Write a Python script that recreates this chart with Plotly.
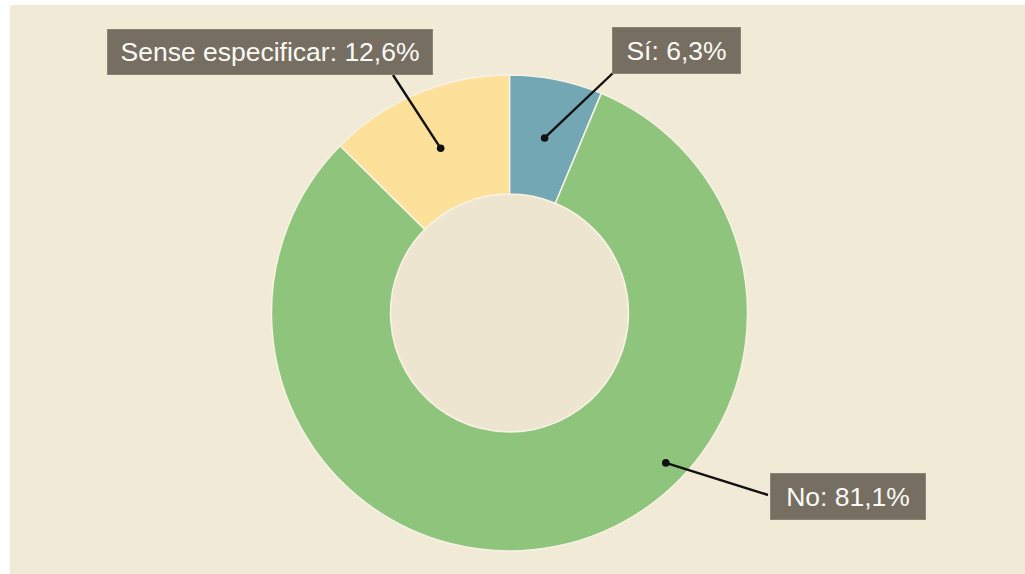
import math
import plotly.graph_objects as go

# ---- data ----
categories = ["Sí", "No", "Sense especificar"]
values = [6.3, 81.1, 12.6]
label_texts = ["Sí: 6,3%", "No: 81,1%", "Sense especificar: 12,6%"]
colors = ["#72A7B3", "#8EC47C", "#FDE19A"]

# ---- layout geometry (pixels) ----
W, H = 1025, 574
CX, CY, R = 509.5, 313.0, 238.0
HOLE = 0.5

def px(x):
    return x / W

def py(y):
    return 1 - y / H

fig = go.Figure()
fig.add_trace(go.Pie(
    labels=categories,
    values=values,
    hole=HOLE,
    sort=False,
    direction="clockwise",
    rotation=0,
    marker=dict(colors=colors, line=dict(color="#F7F2E4", width=1.5)),
    textinfo="none",
    hoverinfo="skip",
    showlegend=False,
    domain=dict(x=[px(CX - R), px(CX + R)], y=[py(CY + R), py(CY - R)]),
))

# label boxes (center px, w, h) and connector tails (px) per category
label_cfg = {
    "Sí": dict(box=(676.5, 50.5, 129, 47), tail=(613, 73), dot=None),
    "No": dict(box=(848.0, 496.5, 156, 47), tail=(768, 495), dot=(133.8, 0.91)),
    "Sense especificar": dict(box=(270.0, 52.0, 326, 46), tail=(393, 75), dot=None),
}

total = sum(values)
cum = 0.0
shapes = [
    dict(type="rect", xref="paper", yref="paper", x0=px(10), x1=1, y0=0, y1=py(5),
         fillcolor="#F1EAD7", line=dict(width=0), layer="below"),
    dict(type="circle", xref="paper", yref="paper",
         x0=px(CX - R * HOLE), x1=px(CX + R * HOLE),
         y0=py(CY + R * HOLE), y1=py(CY - R * HOLE),
         fillcolor="#EDE5D0", line=dict(color="#F7F2E6", width=1.5), layer="below"),
]
annotations = []
for cat, val, txt in zip(categories, values, label_texts):
    mid_angle = (cum + val / 2) / total * 360
    cum += val
    cfg = label_cfg[cat]
    if cfg["dot"] is None:
        ang, rf = mid_angle, (1 + HOLE) / 2
    else:
        ang, rf = cfg["dot"]
    a = math.radians(ang)
    dx = CX + rf * R * math.sin(a)
    dy = CY - rf * R * math.cos(a)
    tx, ty = cfg["tail"]
    shapes.append(dict(type="line", xref="paper", yref="paper",
                       x0=px(tx), y0=py(ty), x1=px(dx), y1=py(dy),
                       line=dict(color="#111111", width=2.4)))
    rr = 3.8
    shapes.append(dict(type="circle", xref="paper", yref="paper",
                       x0=px(dx - rr), x1=px(dx + rr), y0=py(dy + rr), y1=py(dy - rr),
                       fillcolor="#111111", line=dict(width=0)))
    bx, by, bw, bh = cfg["box"]
    annotations.append(dict(
        xref="paper", yref="paper", x=px(bx), y=py(by),
        xanchor="center", yanchor="middle",
        text=txt, showarrow=False,
        font=dict(family="Liberation Sans, Arial, sans-serif", size=26.5, color="#FAFAF7"),
        bgcolor="#766E61", bordercolor="#8C8476", borderwidth=1, borderpad=0,
        width=bw - 2, height=bh - 2, align="center",
    ))

fig.update_layout(
    width=W, height=H,
    margin=dict(l=0, r=0, t=0, b=0),
    paper_bgcolor="#FFFFFF",
    plot_bgcolor="#FFFFFF",
    shapes=shapes,
    annotations=annotations,
)

fig.write_html(
    "out.html",
    config={"displayModeBar": False, "staticPlot": True},
    post_script="document.body.style.margin='0';document.body.style.overflow='hidden';",
)
